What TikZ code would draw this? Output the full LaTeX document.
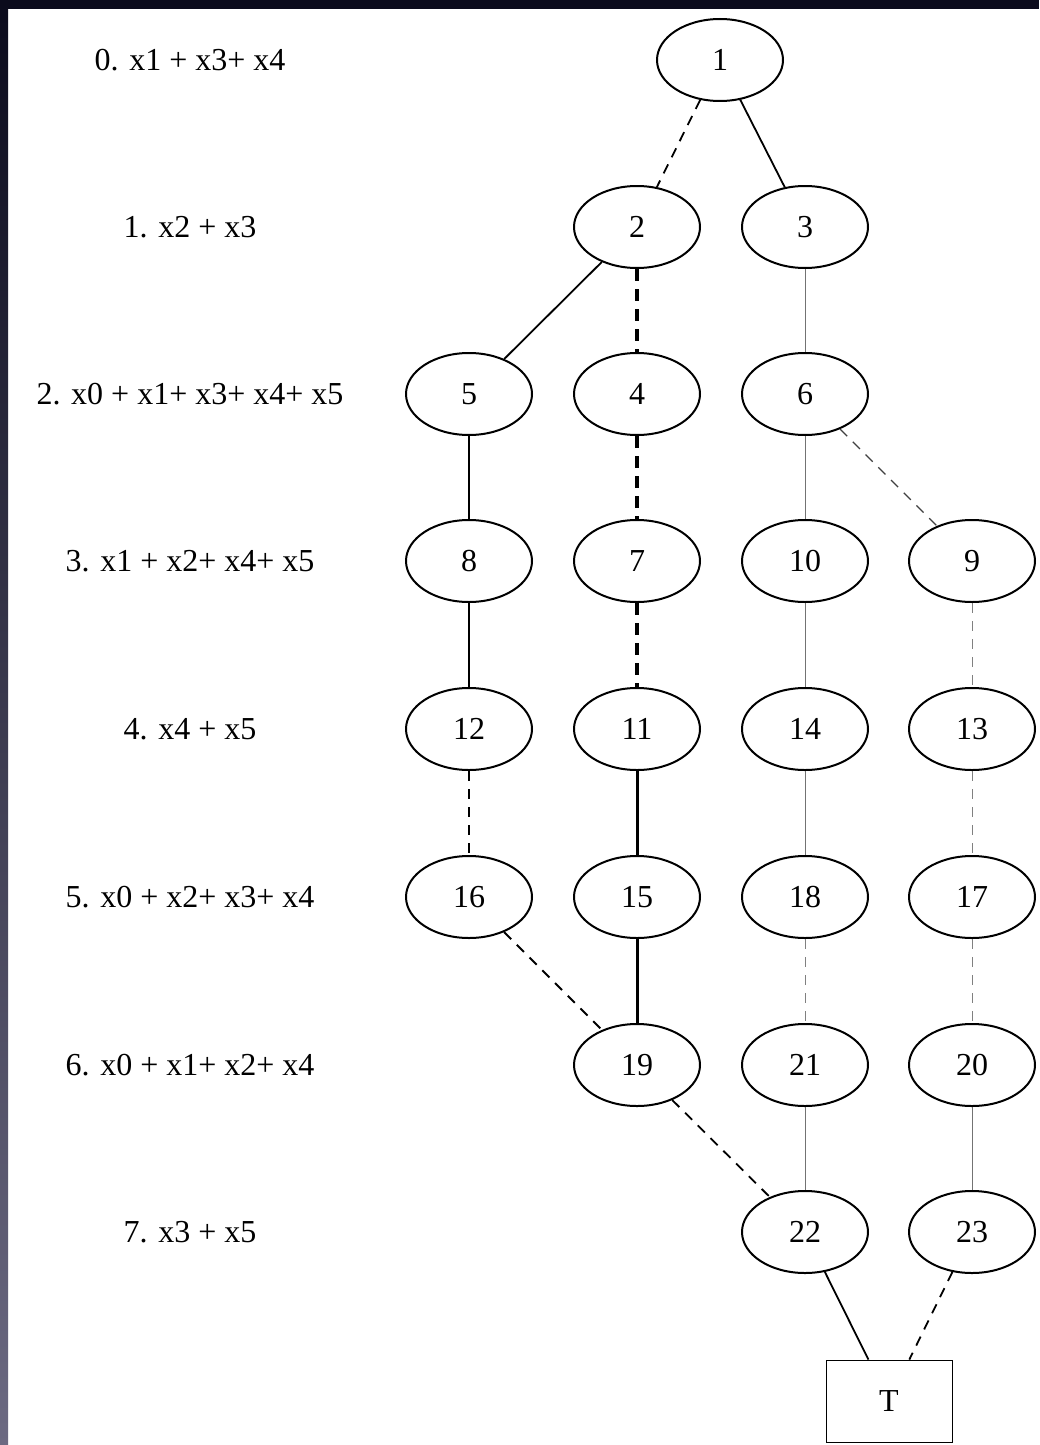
\documentclass[tikz,border=0pt]{standalone}
\usepackage{fontspec}
\setmainfont{Liberation Serif}
\usepackage{tikz}
\usetikzlibrary{shapes,positioning,calc}

\definecolor{frame}{HTML}{0B0B1C}
\definecolor{framelow}{HTML}{6C6A82}

\tikzset{
  state/.style={draw, line width=1pt, ellipse, minimum width=63pt, minimum height=41pt, inner sep=0pt, font=\fontsize{16}{19}\selectfont},
  term/.style={draw, rectangle, minimum width=63pt, minimum height=41pt, inner sep=0pt, font=\fontsize{16}{19}\selectfont},
  level/.style={font=\fontsize{16}{19}\selectfont},
  hi/.style={black, line width=0.9pt},
  hithick/.style={black, line width=1.5pt},
  lo/.style={black, line width=0.9pt, dash pattern=on 5pt off 4pt},
  lothick/.style={black, line width=1.6pt, dash pattern=on 6pt off 4pt},
  hifaint/.style={black!55, line width=0.5pt},
  lofaint/.style={black!50, line width=0.5pt, dash pattern=on 5pt off 4pt}
}

\begin{document}
\begin{tikzpicture}[x=0.5pt, y=-0.5pt]
  \useasboundingbox (0,0) rectangle (1039,1445);
  \fill[white] (0,0) rectangle (1039,1445);

  % Frame edges
  \shade[top color=frame, bottom color=framelow] (0,0) rectangle (8,1445);
  \fill[frame] (0,0) rectangle (1039,9);

  % Variable order
  \node[level] (l0) at (190,60) {0. x1 + x3+ x4};
  \node[level] (l1) at (190,227) {1. x2 + x3};
  \node[level] (l2) at (190,394) {2. x0 + x1+ x3+ x4+ x5};
  \node[level] (l3) at (190,561) {3. x1 + x2+ x4+ x5};
  \node[level] (l4) at (190,729) {4. x4 + x5};
  \node[level] (l5) at (190,897) {5. x0 + x2+ x3+ x4};
  \node[level] (l6) at (190,1065) {6. x0 + x1+ x2+ x4};
  \node[level] (l7) at (190,1232) {7. x3 + x5};

  % Nodes
  \node[state] (n1) at (720,60) {1};
  \node[state] (n2) at (637,227) {2};
  \node[state] (n3) at (805,227) {3};
  \node[state] (n5) at (469,394) {5};
  \node[state] (n4) at (637,394) {4};
  \node[state] (n6) at (805,394) {6};
  \node[state] (n8) at (469,561) {8};
  \node[state] (n7) at (637,561) {7};
  \node[state] (n10) at (805,561) {10};
  \node[state] (n9) at (972,561) {9};
  \node[state] (n12) at (469,729) {12};
  \node[state] (n11) at (637,729) {11};
  \node[state] (n14) at (805,729) {14};
  \node[state] (n13) at (972,729) {13};
  \node[state] (n16) at (469,897) {16};
  \node[state] (n15) at (637,897) {15};
  \node[state] (n18) at (805,897) {18};
  \node[state] (n17) at (972,897) {17};
  \node[state] (n19) at (637,1065) {19};
  \node[state] (n21) at (805,1065) {21};
  \node[state] (n20) at (972,1065) {20};
  \node[state] (n22) at (805,1232) {22};
  \node[state] (n23) at (972,1232) {23};
  \node[term] (t) at (889,1401) {T};

  % Edges
  \draw[lo] (n1) -- (n2);
  \draw[hi] (n1) -- (n3);
  \draw[hi] (n2) -- (n5);
  \draw[lothick] (n2) -- (n4);
  \draw[hifaint] (n3) -- (n6);
  \draw[hi] (n5) -- (n8);
  \draw[lothick] (n4) -- (n7);
  \draw[hifaint] (n6) -- (n10);
  \draw[lo, black!75, line width=0.6pt] (n6) -- (n9);
  \draw[hi] (n8) -- (n12);
  \draw[lothick] (n7) -- (n11);
  \draw[hifaint] (n10) -- (n14);
  \draw[lofaint] (n9) -- (n13);
  \draw[lo] (n12) -- (n16);
  \draw[hithick] (n11) -- (n15);
  \draw[hifaint] (n14) -- (n18);
  \draw[lofaint] (n13) -- (n17);
  \draw[lo] (n16) -- (n19);
  \draw[hithick] (n15) -- (n19);
  \draw[lofaint] (n18) -- (n21);
  \draw[lofaint] (n17) -- (n20);
  \draw[lo] (n19) -- (n22);
  \draw[hifaint] (n21) -- (n22);
  \draw[hifaint] (n20) -- (n23);
  \draw[hi] (n22) -- (t);
  \draw[lo] (n23) -- (t);
\end{tikzpicture}
\end{document}
